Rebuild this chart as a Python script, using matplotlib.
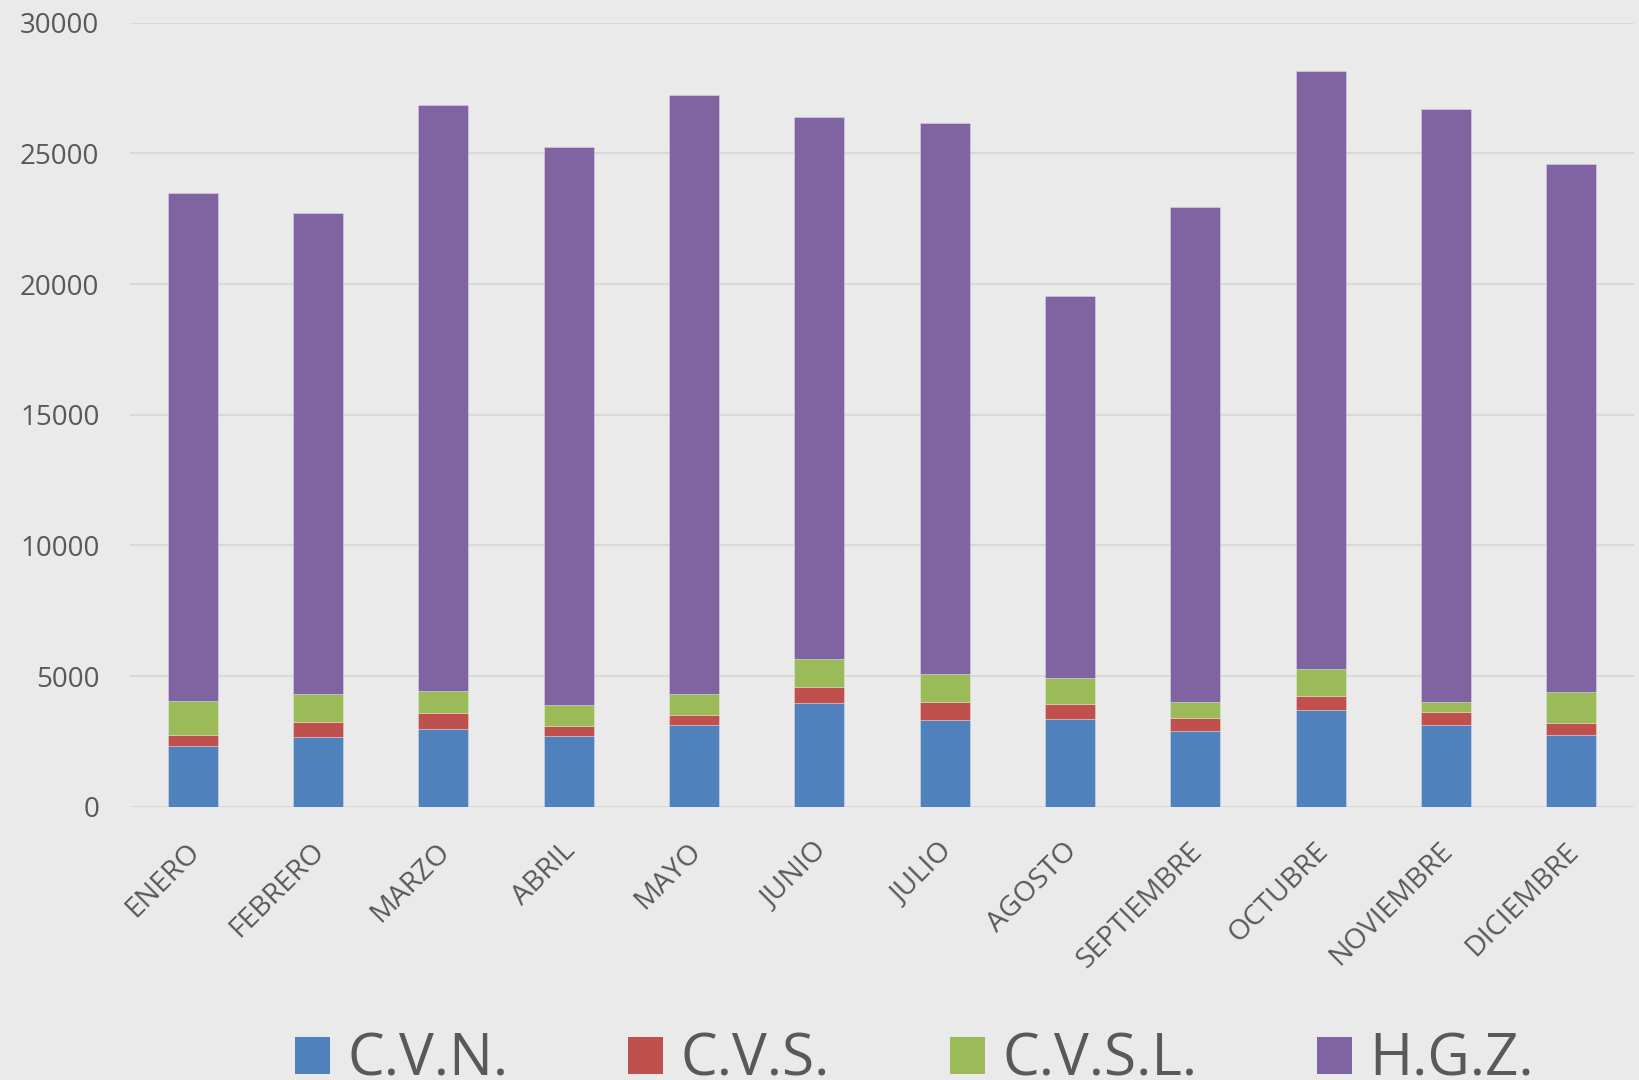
import numpy as np
import matplotlib
matplotlib.use("Agg")
import matplotlib.pyplot as plt
import matplotlib.transforms as mtransforms
from matplotlib.patches import Patch

meses = ['ENERO', 'FEBRERO', 'MARZO', 'ABRIL', 'MAYO', 'JUNIO', 'JULIO',
         'AGOSTO', 'SEPTIEMBRE', 'OCTUBRE', 'NOVIEMBRE', 'DICIEMBRE']
cvn = [2320, 2660, 2970, 2690, 3140, 3970, 3330, 3370, 2880, 3690, 3140, 2760]
cvs = [420, 600, 600, 410, 380, 610, 660, 570, 520, 560, 500, 460]
cvsl = [1300, 1070, 850, 780, 780, 1070, 1080, 970, 590, 1020, 380, 1160]
hgz = [19460, 18380, 22440, 21365, 22930, 20730, 21110, 14630, 18970, 22880, 22690, 20230]

series = ['C.V.N.', 'C.V.S.', 'C.V.S.L.', 'H.G.Z.']
colores = ['#4F81BD', '#C0504D', '#9BBB59', '#8064A2']

plt.rcParams['font.family'] = ['Open Sans', 'DejaVu Sans']
bg = '#EAEAEA'
txt = '#595959'

fig = plt.figure(figsize=(16.39, 10.8), dpi=100, facecolor=bg)
ax = fig.add_axes([0.0793, 0.253, 0.9177, 0.726], facecolor=bg)

x = np.arange(len(meses))
bottom = np.zeros(len(meses))
for vals, col in zip([cvn, cvs, cvsl, hgz], colores):
    ax.bar(x, vals, 0.4, bottom=bottom, color=col, edgecolor='#ffffff55',
           linewidth=0.6, zorder=3)
    bottom += np.array(vals)

ax.set_xlim(-0.5, len(meses) - 0.5)
ax.set_ylim(0, 30000)
ax.set_yticks(np.arange(0, 30001, 5000))
ax.grid(axis='y', color='#D9D9D9', linewidth=1.5, zorder=0)
for s in ax.spines.values():
    s.set_visible(False)
ax.tick_params(axis='y', length=0, pad=22, labelsize=20, labelcolor=txt)
ax.tick_params(axis='x', length=0, pad=22, labelsize=20.5, labelcolor=txt)
ax.set_xticks(x)
ax.set_xticklabels(meses, rotation=45, ha='right', va='top', rotation_mode='anchor')
# nudge the rotated labels a bit to the left
shift = mtransforms.ScaledTranslation(-7 / 100, 0, fig.dpi_scale_trans)
for lab in ax.get_xticklabels():
    lab.set_transform(lab.get_transform() + shift)

handles = [Patch(facecolor=c, label=s) for s, c in zip(series, colores)]
fig.legend(handles=handles, loc='center', bbox_to_anchor=(0.558, 0.018), ncol=4,
           frameon=False, fontsize=42, labelcolor=txt, handlelength=0.6,
           handleheight=0.6, handletextpad=0.3, columnspacing=2.05)

fig.savefig('out.png', dpi=100, facecolor=bg)
